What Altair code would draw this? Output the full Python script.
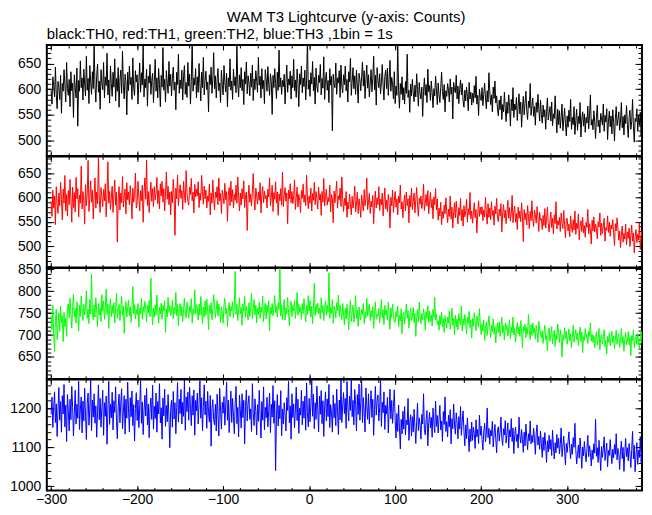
import altair as alt
import pandas as pd

# time axis: 1-s bins starting at -300 s
t_start = -300
t_step = 1

th0 = [598, 571, 624, 607, 585, 643, 590, 562, 615, 603,
       580, 627, 553, 611, 596, 638, 609, 575, 652, 601,
       588, 619, 566, 634, 597, 612, 545, 628, 604, 583,
       641, 528, 617, 596, 655, 603, 622, 579, 639, 610,
       587, 664, 598, 621, 572, 646, 613, 590, 634, 601,
       690, 608, 575, 627, 649, 594, 616, 561, 638, 612,
       599, 652, 583, 624, 607, 670, 589, 618, 573, 645,
       611, 586, 633, 604, 659, 577, 621, 596, 642, 565,
       618, 637, 592, 674, 606, 581, 629, 614, 550, 633,
       597, 645, 609, 623, 580, 661, 602, 588, 636, 614,
       628, 571, 617, 651, 594, 632, 608, 686, 585, 620,
       603, 639, 567, 625, 612, 648, 590, 617, 631, 574,
       615, 658, 596, 622, 583, 640, 609, 566, 627, 604,
       681, 598, 619, 575, 636, 612, 592, 654, 606, 629,
       587, 621, 643, 598, 614, 560, 633, 609, 668, 592,
       618, 601, 637, 579, 625, 646, 590, 613, 584, 652,
       606, 629, 571, 615, 697, 596, 622, 608, 640, 583,
       624, 594, 650, 611, 577, 633, 603, 662, 589, 617,
       635, 599, 614, 556, 628, 609, 643, 592, 620, 671,
       601, 626, 583, 618, 640, 597, 612, 574, 637, 608,
       589, 646, 613, 595, 631, 566, 622, 605, 659, 598,
       616, 580, 639, 607, 624, 593, 688, 611, 585, 628,
       603, 642, 597, 619, 570, 634, 610, 653, 591, 626,
       612, 587, 631, 604, 647, 578, 620, 599, 636, 615,
       594, 662, 608, 625, 583, 640, 601, 617, 572, 638,
       621, 596, 644, 609, 588, 630, 615, 551, 627, 603,
       640, 611, 582, 633, 598, 676, 604, 622, 590, 617,
       605, 629, 571, 613, 647, 594, 620, 608, 635, 581,
       626, 603, 658, 597, 618, 584, 639, 611, 566, 630,
       609, 645, 593, 622, 605, 637, 579, 616, 699, 600,
       618, 586, 632, 610, 654, 597, 623, 571, 641, 606,
       594, 627, 613, 648, 589, 621, 602, 663, 580, 619,
       633, 598, 617, 574, 640, 608, 625, 519, 629, 611,
       603, 651, 590, 622, 612, 636, 584, 647, 606, 593,
       628, 609, 645, 597, 619, 575, 634, 614, 660, 588,
       615, 642, 601, 626, 590, 637, 608, 573, 631, 619,
       597, 624, 653, 606, 636, 582, 618, 647, 602, 628,
       585, 612, 638, 595, 621, 664, 599, 627, 569, 642,
       617, 603, 630, 591, 614, 648, 606, 579, 625, 637,
       601, 641, 588, 619, 656, 596, 623, 610, 581, 634,
       572, 606, 588, 684, 597, 563, 611, 590, 624, 579,
       603, 571, 615, 592, 668, 584, 598, 555, 610, 587,
       619, 593, 576, 608, 585, 630, 599, 567, 613, 591,
       581, 604, 547, 596, 622, 588, 609, 574, 639, 595,
       607, 578, 616, 593, 564, 601, 587, 625, 598, 570,
       612, 589, 574, 603, 633, 595, 580, 609, 556, 597,
       586, 611, 598, 575, 620, 590, 604, 542, 613, 599,
       593, 627, 581, 606, 572, 600, 618, 589, 611, 577,
       565, 598, 577, 604, 586, 558, 613, 581, 594, 569,
       592, 574, 607, 583, 625, 571, 588, 549, 600, 584,
       578, 603, 568, 590, 612, 583, 562, 597, 575, 632,
       596, 570, 589, 556, 604, 582, 616, 573, 587, 561,
       548, 579, 560, 587, 541, 570, 556, 594, 563, 537,
       575, 553, 589, 566, 528, 580, 558, 603, 545, 571,
       560, 584, 539, 567, 591, 552, 575, 526, 563, 586,
       550, 572, 596, 558, 541, 577, 564, 611, 549, 568,
       583, 547, 566, 530, 574, 555, 590, 561, 538, 579,
       551, 534, 569, 546, 560, 522, 557, 583, 540, 553,
       566, 538, 575, 529, 552, 543, 587, 548, 515, 561,
       531, 558, 524, 546, 571, 519, 540, 563, 533, 509,
       548, 526, 559, 537, 580, 522, 545, 531, 566, 512,
       539, 561, 520, 547, 533, 574, 507, 542, 556, 528,
       552, 516, 545, 534, 567, 523, 549, 589, 530, 541,
       521, 558, 537, 504, 546, 569, 527, 540, 515, 553,
       542, 530, 571, 518, 549, 536, 562, 502, 538, 557,
       527, 548, 513, 560, 535, 499, 544, 566, 529, 541,
       556, 520, 538, 574, 525, 547, 511, 550, 533, 568,
       531, 506, 545, 559, 522, 537, 580, 528, 497, 543,
       537, 562, 518, 549, 530, 555, 509, 541, 526, 548]

th1 = [592, 561, 615, 578, 603, 544, 622, 586, 567, 609,
       583, 631, 596, 554, 617, 588, 645, 572, 606, 562,
       614, 585, 637, 598, 549, 621, 579, 610, 570, 641,
       597, 618, 560, 604, 588, 664, 576, 612, 593, 545,
       626, 583, 607, 676, 571, 599, 634, 590, 615, 556,
       602, 640, 578, 611, 587, 683, 594, 569, 620, 603,
       581, 616, 593, 628, 560, 607, 673, 588, 612, 575,
       599, 623, 569, 605, 636, 584, 611, 508, 597, 622,
       574, 609, 589, 643, 580, 602, 617, 566, 630, 595,
       611, 585, 624, 598, 556, 619, 590, 606, 650, 578,
       587, 633, 601, 572, 614, 593, 625, 549, 608, 640,
       596, 677, 583, 612, 569, 604, 631, 592, 618, 581,
       622, 595, 609, 641, 587, 614, 576, 628, 603, 633,
       590, 618, 572, 607, 652, 596, 623, 585, 611, 564,
       612, 589, 637, 603, 522, 619, 597, 646, 583, 608,
       626, 598, 614, 575, 633, 604, 589, 655, 608, 592,
       584, 621, 606, 639, 593, 611, 568, 627, 601, 617,
       603, 632, 579, 609, 594, 645, 612, 586, 623, 597,
       615, 578, 603, 592, 627, 564, 609, 588, 636, 596,
       574, 611, 599, 622, 585, 640, 593, 608, 567, 615,
       602, 587, 629, 595, 612, 551, 604, 620, 583, 633,
       591, 616, 578, 606, 594, 625, 588, 642, 601, 572,
       609, 584, 618, 597, 634, 579, 603, 611, 532, 598,
       625, 590, 607, 582, 613, 649, 596, 574, 619, 603,
       586, 611, 594, 630, 568, 605, 622, 589, 613, 597,
       604, 578, 617, 601, 640, 583, 599, 625, 571, 610,
       596, 632, 588, 611, 563, 607, 593, 618, 584, 652,
       581, 604, 620, 592, 609, 546, 615, 597, 628, 589,
       612, 587, 603, 636, 575, 599, 621, 580, 606, 594,
       569, 614, 598, 627, 590, 605, 583, 646, 601, 577,
       603, 588, 619, 572, 608, 594, 631, 585, 612, 598,
       576, 621, 595, 607, 563, 612, 590, 639, 582, 604,
       617, 584, 600, 591, 625, 570, 606, 597, 548, 613,
       589, 610, 633, 578, 603, 595, 619, 581, 642, 596,
       571, 598, 583, 612, 559, 590, 576, 607, 585, 564,
       602, 578, 594, 623, 570, 586, 611, 567, 597, 581,
       559, 605, 588, 572, 616, 583, 597, 640, 575, 590,
       608, 567, 592, 580, 604, 546, 589, 613, 578, 599,
       585, 622, 573, 596, 584, 609, 562, 592, 619, 576,
       594, 571, 606, 588, 537, 600, 583, 615, 569, 593,
       612, 580, 597, 564, 603, 589, 625, 576, 591, 558,
       587, 605, 572, 611, 583, 597, 548, 604, 580, 619,
       575, 592, 609, 568, 595, 620, 584, 561, 598, 586,
       603, 577, 590, 627, 573, 588, 606, 582, 614, 566,
       591, 610, 579, 596, 556, 601, 585, 618, 574, 597,
       553, 578, 562, 590, 544, 571, 557, 584, 566, 599,
       570, 548, 576, 561, 603, 555, 580, 537, 568, 589,
       558, 592, 567, 545, 579, 563, 598, 552, 575, 541,
       583, 560, 571, 596, 549, 577, 564, 610, 556, 572,
       547, 569, 589, 558, 575, 527, 566, 593, 561, 580,
       565, 581, 552, 574, 560, 600, 568, 545, 587, 559,
       578, 554, 591, 563, 573, 543, 582, 566, 598, 557,
       550, 576, 562, 587, 529, 569, 585, 558, 574, 546,
       568, 594, 557, 579, 551, 566, 604, 548, 571, 582,
       549, 567, 534, 580, 557, 572, 550, 589, 561, 509,
       575, 554, 568, 543, 583, 560, 536, 571, 552, 593,
       556, 540, 574, 565, 547, 581, 558, 530, 569, 553,
       556, 534, 563, 542, 577, 537, 554, 580, 546, 529,
       551, 570, 538, 557, 525, 564, 546, 591, 535, 552,
       543, 559, 530, 568, 549, 536, 573, 544, 517, 556,
       557, 531, 545, 519, 562, 539, 528, 554, 533, 572,
       524, 547, 536, 566, 513, 541, 552, 530, 559, 527,
       542, 518, 549, 538, 575, 525, 546, 533, 504, 553,
       531, 560, 529, 545, 536, 515, 550, 539, 568, 522,
       547, 526, 541, 557, 510, 538, 532, 562, 528, 549,
       520, 543, 535, 554, 527, 501, 546, 531, 558, 537,
       512, 531, 497, 523, 541, 508, 526, 514, 545, 503,
       529, 516, 537, 499, 521, 543, 510, 527, 486, 519,
       534, 507, 524, 512, 548, 493, 520, 531, 505, 516]

th2 = [744, 712, 768, 701, 662, 733, 759, 690, 723, 751,
       708, 766, 728, 744, 685, 752, 719, 738, 697, 762,
       771, 739, 784, 748, 716, 765, 793, 742, 760, 727,
       776, 751, 709, 768, 742, 789, 755, 733, 770, 746,
       763, 801, 738, 759, 726, 781, 748, 838, 752, 735,
       769, 741, 785, 757, 719, 773, 746, 762, 731, 792,
       754, 778, 736, 764, 805, 747, 771, 715, 760, 783,
       742, 767, 749, 774, 728, 761, 795, 738, 756, 770,
       733, 759, 788, 745, 766, 704, 752, 776, 741, 763,
       780, 744, 765, 729, 757, 811, 748, 769, 737, 758,
       746, 772, 718, 761, 749, 784, 736, 765, 753, 777,
       759, 730, 768, 750, 779, 742, 830, 756, 723, 762,
       741, 769, 745, 791, 752, 727, 764, 748, 773, 736,
       768, 755, 778, 706, 760, 741, 786, 752, 767, 744,
       754, 779, 737, 763, 748, 797, 744, 770, 721, 761,
       772, 743, 765, 731, 758, 784, 750, 739, 775, 755,
       738, 766, 752, 783, 727, 760, 747, 803, 749, 769,
       762, 734, 771, 745, 788, 753, 726, 764, 741, 778,
       745, 782, 757, 712, 768, 749, 774, 735, 760, 792,
       766, 740, 759, 779, 743, 771, 756, 729, 764, 748,
       727, 769, 784, 748, 761, 719, 757, 774, 742, 765,
       755, 776, 739, 762, 845, 747, 770, 733, 758, 785,
       748, 763, 722, 771, 754, 788, 741, 766, 750, 735,
       774, 742, 760, 795, 737, 759, 781, 746, 768, 728,
       761, 747, 775, 738, 764, 752, 789, 730, 756, 773,
       737, 768, 752, 778, 710, 763, 748, 772, 744, 760,
       790, 751, 766, 741, 774, 758, 852, 743, 769, 735,
       757, 781, 734, 762, 748, 786, 752, 721, 765, 777,
       742, 767, 755, 779, 738, 761, 797, 745, 770, 752,
       764, 736, 772, 749, 783, 757, 730, 768, 746, 790,
       755, 779, 741, 766, 726, 761, 818, 744, 770, 753,
       773, 748, 762, 737, 785, 751, 767, 733, 759, 778,
       745, 769, 752, 842, 738, 763, 749, 781, 727, 766,
       760, 739, 774, 756, 791, 742, 768, 751, 735, 772,
       748, 723, 761, 737, 770, 744, 712, 756, 779, 731,
       752, 768, 729, 746, 790, 738, 757, 720, 764, 741,
       735, 759, 747, 772, 726, 753, 739, 784, 743, 761,
       770, 733, 756, 741, 765, 715, 750, 776, 736, 748,
       742, 761, 728, 753, 781, 739, 758, 724, 768, 746,
       757, 734, 775, 749, 713, 762, 740, 771, 745, 730,
       729, 754, 741, 766, 719, 745, 732, 760, 703, 748,
       752, 725, 747, 771, 738, 756, 716, 744, 762, 733,
       741, 763, 728, 750, 697, 739, 758, 730, 775, 742,
       726, 749, 735, 760, 744, 712, 753, 738, 767, 729,
       755, 731, 746, 721, 759, 740, 786, 735, 748, 724,
       733, 711, 745, 724, 752, 719, 738, 706, 744, 729,
       716, 741, 727, 755, 713, 734, 761, 722, 739, 700,
       745, 718, 736, 712, 749, 731, 724, 766, 709, 737,
       722, 747, 730, 703, 741, 726, 754, 717, 735, 693,
       738, 720, 751, 729, 710, 744, 733, 718, 760, 725,
       701, 726, 709, 734, 688, 715, 730, 699, 722, 744,
       717, 694, 723, 708, 737, 702, 719, 682, 713, 728,
       706, 730, 697, 716, 741, 704, 721, 689, 727, 711,
       723, 698, 714, 735, 692, 718, 705, 741, 700, 715,
       684, 712, 729, 703, 719, 697, 733, 708, 671, 720,
       709, 725, 694, 718, 703, 747, 711, 690, 724, 699,
       728, 704, 716, 691, 722, 709, 683, 731, 714, 702,
       693, 710, 681, 705, 722, 689, 699, 664, 708, 716,
       686, 703, 719, 680, 697, 711, 674, 702, 690, 725,
       706, 683, 712, 695, 650, 701, 688, 717, 692, 709,
       679, 698, 714, 687, 703, 671, 695, 722, 684, 701,
       712, 690, 705, 676, 699, 718, 685, 707, 660, 696,
       688, 715, 694, 703, 681, 709, 697, 728, 686, 702,
       683, 699, 671, 694, 708, 677, 690, 715, 666, 693,
       701, 680, 696, 712, 674, 688, 657, 697, 683, 705,
       676, 694, 709, 683, 698, 669, 691, 711, 679, 695,
       703, 672, 689, 715, 681, 697, 663, 692, 706, 678,
       686, 708, 677, 694, 653, 699, 688, 712, 671, 690,
       697, 679, 703, 685, 667, 694, 709, 682, 698, 714]

th3 = [1185, 1229, 1151, 1206, 1243, 1164, 1212, 1128, 1197, 1254,
       1170, 1218, 1139, 1233, 1186, 1262, 1153, 1209, 1115, 1236,
       1195, 1142, 1224, 1171, 1257, 1203, 1129, 1188, 1247, 1160,
       1211, 1175, 1270, 1146, 1199, 1230, 1137, 1219, 1168, 1252,
       1183, 1120, 1214, 1240, 1157, 1201, 1275, 1143, 1222, 1178,
       1238, 1162, 1207, 1126, 1193, 1261, 1171, 1226, 1152, 1203,
       1247, 1131, 1215, 1180, 1232, 1108, 1197, 1270, 1159, 1211,
       1176, 1242, 1145, 1220, 1190, 1256, 1167, 1122, 1206, 1237,
       1163, 1214, 1251, 1148, 1191, 1233, 1134, 1224, 1175, 1268,
       1199, 1140, 1228, 1179, 1245, 1156, 1210, 1116, 1200, 1241,
       1169, 1222, 1151, 1204, 1273, 1162, 1217, 1133, 1194, 1234,
       1181, 1252, 1158, 1212, 1125, 1199, 1227, 1172, 1260, 1147,
       1206, 1174, 1240, 1139, 1218, 1186, 1264, 1163, 1202, 1121,
       1227, 1181, 1250, 1154, 1208, 1166, 1236, 1178, 1099, 1197,
       1221, 1152, 1244, 1173, 1215, 1135, 1203, 1267, 1165, 1224,
       1187, 1249, 1160, 1216, 1180, 1275, 1144, 1230, 1192, 1242,
       1170, 1255, 1201, 1156, 1233, 1183, 1248, 1131, 1221, 1194,
       1240, 1160, 1213, 1272, 1175, 1228, 1143, 1205, 1261, 1184,
       1219, 1149, 1244, 1190, 1165, 1234, 1103, 1200, 1223, 1171,
       1158, 1211, 1142, 1237, 1185, 1129, 1252, 1196, 1147, 1216,
       1188, 1231, 1157, 1209, 1268, 1170, 1222, 1138, 1193, 1245,
       1164, 1226, 1180, 1135, 1214, 1257, 1161, 1203, 1127, 1235,
       1196, 1150, 1238, 1177, 1221, 1109, 1205, 1248, 1168, 1213,
       1233, 1172, 1199, 1141, 1264, 1187, 1156, 1225, 1193, 1132,
       1210, 1167, 1247, 1182, 1124, 1218, 1170, 1256, 1145, 1203,
       1176, 1229, 1153, 1195, 1240, 1138, 1211, 1178, 1259, 1162,
       1220, 1040, 1181, 1236, 1155, 1208, 1174, 1246, 1130, 1199,
       1160, 1215, 1186, 1142, 1228, 1195, 1270, 1163, 1207, 1121,
       1238, 1177, 1212, 1150, 1196, 1255, 1169, 1224, 1136, 1201,
       1183, 1247, 1158, 1219, 1175, 1232, 1144, 1266, 1190, 1153,
       1226, 1166, 1209, 1274, 1180, 1237, 1148, 1215, 1172, 1258,
       1197, 1140, 1232, 1185, 1246, 1161, 1220, 1128, 1204, 1243,
       1168, 1225, 1179, 1262, 1151, 1210, 1189, 1139, 1235, 1176,
       1213, 1156, 1250, 1194, 1133, 1222, 1171, 1275, 1164, 1207,
       1241, 1187, 1226, 1149, 1270, 1203, 1168, 1232, 1195, 1275,
       1179, 1221, 1158, 1249, 1210, 1142, 1236, 1185, 1263, 1170,
       1215, 1275, 1164, 1228, 1191, 1140, 1253, 1207, 1172, 1238,
       1160, 1211, 1246, 1177, 1224, 1131, 1198, 1257, 1183, 1219,
       1235, 1168, 1202, 1275, 1154, 1216, 1189, 1243, 1146, 1208,
       1186, 1229, 1137, 1194, 1250, 1173, 1221, 1162, 1205, 1248,
       1168, 1124, 1187, 1141, 1209, 1150, 1096, 1172, 1135, 1193,
       1147, 1205, 1132, 1170, 1158, 1226, 1118, 1163, 1184, 1129,
       1179, 1140, 1198, 1152, 1110, 1167, 1214, 1143, 1176, 1157,
       1121, 1185, 1160, 1238, 1146, 1132, 1171, 1195, 1104, 1162,
       1190, 1150, 1177, 1126, 1201, 1164, 1138, 1219, 1154, 1182,
       1137, 1173, 1208, 1145, 1168, 1115, 1192, 1159, 1230, 1141,
       1166, 1127, 1183, 1153, 1197, 1109, 1174, 1148, 1212, 1160,
       1134, 1189, 1162, 1122, 1179, 1147, 1205, 1131, 1168, 1194,
       1141, 1104, 1158, 1122, 1176, 1133, 1089, 1147, 1115, 1165,
       1118, 1152, 1136, 1097, 1171, 1127, 1146, 1110, 1183, 1131,
       1155, 1120, 1093, 1140, 1162, 1114, 1137, 1201, 1125, 1149,
       1108, 1144, 1130, 1167, 1101, 1135, 1159, 1121, 1086, 1142,
       1153, 1116, 1139, 1178, 1124, 1105, 1148, 1132, 1169, 1111,
       1137, 1163, 1098, 1145, 1127, 1174, 1115, 1150, 1084, 1133,
       1152, 1115, 1134, 1098, 1178, 1130, 1111, 1146, 1121, 1087,
       1139, 1104, 1160, 1126, 1094, 1135, 1117, 1168, 1109, 1131,
       1113, 1149, 1122, 1082, 1137, 1158, 1106, 1128, 1095, 1142,
       1109, 1074, 1126, 1092, 1138, 1105, 1061, 1117, 1088, 1131,
       1095, 1120, 1079, 1144, 1103, 1070, 1112, 1086, 1133, 1098,
       1124, 1083, 1107, 1150, 1076, 1101, 1129, 1091, 1055, 1110,
       1087, 1114, 1140, 1097, 1071, 1108, 1082, 1125, 1100, 1162,
       1094, 1057, 1081, 1106, 1072, 1124, 1090, 1046, 1101, 1078,
       1115, 1083, 1063, 1097, 1131, 1076, 1104, 1087, 1052, 1093,
       1069, 1109, 1085, 1172, 1077, 1099, 1061, 1118, 1080, 1040,
       1102, 1074, 1096, 1127, 1066, 1088, 1111, 1050, 1092, 1079,
       1120, 1086, 1058, 1095, 1073, 1107, 1082, 1135, 1068, 1097,
       1084, 1043, 1090, 1116, 1071, 1100, 1038, 1087, 1123, 1076,
       1099, 1065, 1110, 1082, 1048, 1094, 1141, 1070, 1105, 1037,
       1081, 1112, 1056, 1093, 1074, 1128, 1061, 1089, 1045, 1079]

series = [th0, th1, th2, th3]
colors = ["#000000", "#ff0000", "#00ff00", "#0000ff"]
y_domains = [[470, 686], [456, 684], [600, 853], [989, 1275]]
y_major = [[500, 550, 600, 650], [500, 550, 600, 650],
           [650, 700, 750, 800, 850], [1000, 1100, 1200]]
y_minor_step = [10, 10, 10, 20]

x_domain = [-305, 387]
x_major = [-300, -200, -100, 0, 100, 200, 300]
x_minor = list(range(-300, 381, 20))

FONT = "Liberation Sans"
W, H = 598, 111.5


def ax(orient, values, size, labels=False, pad=5):
    return alt.Axis(orient=orient, values=values, tickSize=size, offset=-size,
                    labels=labels, domain=False, grid=False, title=None,
                    ticks=True, tickColor="black", tickWidth=1, format="d",
                    labelPadding=pad, labelFlush=False, labelOverlap=False,
                    labelFont=FONT, labelFontSize=14, labelColor="black")


def panel(k, last):
    vals = series[k]
    df = pd.DataFrame({"t": [t_start + t_step * i for i in range(len(vals))],
                       "c": vals})
    lo, hi = y_domains[k]
    st = y_minor_step[k]
    ymin = [v for v in range(int(lo // st * st), int(hi) + 1, st) if lo <= v <= hi]
    xs = alt.Scale(domain=x_domain, nice=False, zero=False)
    ys = alt.Scale(domain=y_domains[k], nice=False, zero=False)

    def enc(xa, ya):
        return dict(x=alt.X("t:Q", scale=xs, axis=xa),
                    y=alt.Y("c:Q", scale=ys, axis=ya))

    base = alt.Chart(df)
    l1 = base.mark_line(color=colors[k], strokeWidth=1, clip=True).encode(
        **enc(ax("bottom", x_major, 5, labels=last, pad=2),
              ax("left", y_major[k], 7, labels=True, pad=6)))
    l2 = base.mark_line(strokeOpacity=0, clip=True).encode(
        **enc(ax("top", x_major, 5), ax("right", y_major[k], 7)))
    l3 = base.mark_line(strokeOpacity=0, clip=True).encode(
        **enc(ax("bottom", x_minor, 3), ax("left", ymin, 4)))
    l4 = base.mark_line(strokeOpacity=0, clip=True).encode(
        **enc(ax("top", x_minor, 3), ax("right", ymin, 4)))
    ch = alt.layer(l1, l2, l3, l4).resolve_axis(x="independent", y="independent")
    props = dict(width=W, height=H)
    if k == 0:
        props["title"] = alt.TitleParams(
            text="black:TH0, red:TH1, green:TH2, blue:TH3 ,1bin = 1s",
            anchor="start", frame="group", offset=3, font=FONT, fontSize=15,
            fontWeight="normal", color="black")
    return ch.properties(**props)


chart = alt.vconcat(
    *[panel(k, k == 3) for k in range(4)],
    spacing=0, bounds="flush",
    title=alt.TitleParams(text="WAM T3 Lightcurve (y-axis: Counts)",
                          anchor="middle", offset=1, dx=20, font=FONT, fontSize=15,
                          fontWeight="normal", color="black"),
    padding={"left": 0, "top": 0, "right": 0, "bottom": 0},
).configure_view(stroke="black", strokeWidth=2)

chart.save("out.html", embed_options={"renderer": "svg", "actions": False})
